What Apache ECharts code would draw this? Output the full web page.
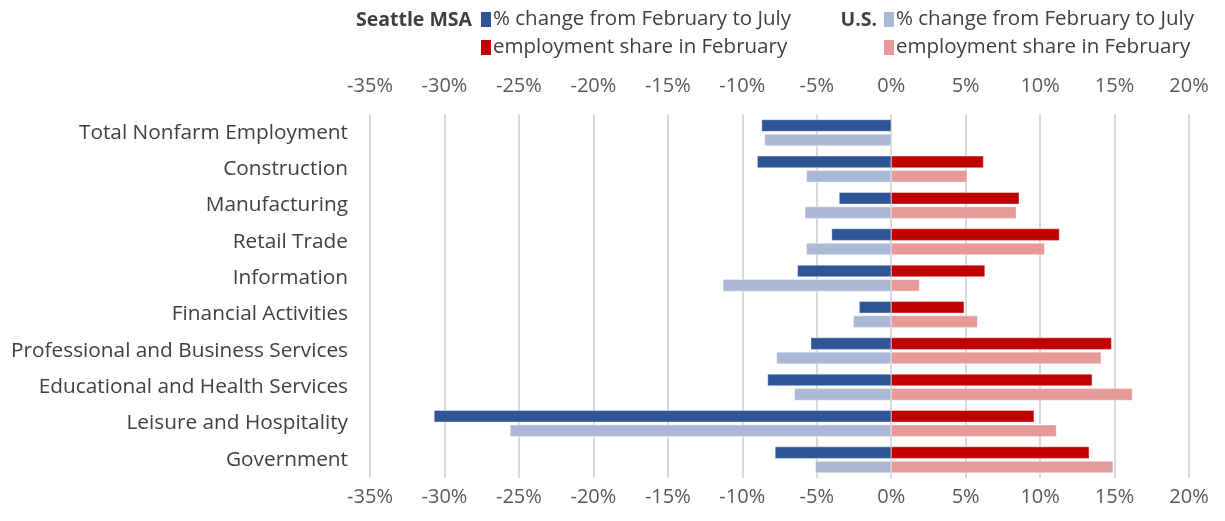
<!DOCTYPE html>
<html>
<head>
<meta charset="utf-8">
<script src="https://cdn.jsdelivr.net/npm/echarts@6/dist/echarts.min.js"></script>
<style>html,body{margin:0;padding:0;background:#fff}#c{width:1225px;height:521px}</style>
</head>
<body>
<div id="c"></div>
<script>
const categories = ['Total Nonfarm Employment','Construction','Manufacturing','Retail Trade','Information','Financial Activities','Professional and Business Services','Educational and Health Services','Leisure and Hospitality','Government'];
const seattleChange = [-8.7, -9.0, -3.5, -4.0, -6.3, -2.15, -5.4, -8.3, -30.7, -7.8];
const usChange = [-8.5, -5.7, -5.8, -5.7, -11.3, -2.55, -7.7, -6.5, -25.6, -5.1];
const seattleShare = [null, 6.2, 8.6, 11.3, 6.3, 4.9, 14.8, 13.5, 9.6, 13.3];
const usShare = [null, 5.1, 8.4, 10.3, 1.9, 5.8, 14.1, 16.2, 11.1, 14.9];
const xTicks = {min: -35, max: 20, interval: 5};

const FONT = '"Open Sans", sans-serif';
const chart = echarts.init(document.getElementById('c'));
const fmt = n => n.split('|')[1];
const xAxisBase = (pos, margin) => ({
  type: 'value', position: pos, min: xTicks.min, max: xTicks.max, interval: xTicks.interval,
  axisLine: {show: false}, axisTick: {show: false},
  splitLine: {show: pos === 'bottom', lineStyle: {color: '#D9D9D9', width: 2}},
  axisLabel: {formatter: v => v + '%', color: '#595959', fontSize: 20, fontFamily: FONT, margin: margin}
});
const bar = (name, data, stack, color) => ({
  name, type: 'bar', data, stack, barWidth: 12, barGap: '20%',
  itemStyle: {color, borderColor: '#fff', borderWidth: 0.4},
  emphasis: {disabled: true}
});
const legendBase = (left, names) => ({
  data: names, orient: 'vertical', left, top: 9, padding: 0, itemWidth: 10, itemHeight: 15, itemGap: 7,
  icon: 'rect', itemStyle: {borderWidth: 0},
  formatter: fmt, selectedMode: false,
  textStyle: {color: '#404040', fontSize: 20.5, fontFamily: FONT, padding: [0, 0, 0, -3]}
});
chart.setOption({
  animation: false,
  grid: {left: 370, right: 36, top: 114.6, bottom: 43},
  xAxis: [xAxisBase('bottom', 9), xAxisBase('top', 18)],
  yAxis: {
    type: 'category', data: categories, inverse: true,
    axisLine: {show: false, onZero: false}, axisTick: {show: false},
    axisLabel: {color: '#404040', fontSize: 20.8, fontFamily: FONT, margin: 22}
  },
  legend: [
    legendBase(481, ['S|% change from February to July', 'S|employment share in February']),
    legendBase(884, ['U|% change from February to July', 'U|employment share in February'])
  ],
  graphic: [
    {type: 'text', right: 1225 - 472, top: 10, style: {text: 'Seattle MSA', font: 'bold 19.5px ' + FONT, fill: '#404040'}},
    {type: 'text', right: 1225 - 877, top: 10, style: {text: 'U.S.', font: 'bold 19.5px ' + FONT, fill: '#404040'}}
  ],
  series: [
    bar('S|% change from February to July', seattleChange, 's', '#2F5597'),
    bar('S|employment share in February', seattleShare, 's', '#C00000'),
    bar('U|% change from February to July', usChange, 'u', '#ABB9D6'),
    bar('U|employment share in February', usShare, 'u', '#E69A9A')
  ]
});
</script>
</body>
</html>
